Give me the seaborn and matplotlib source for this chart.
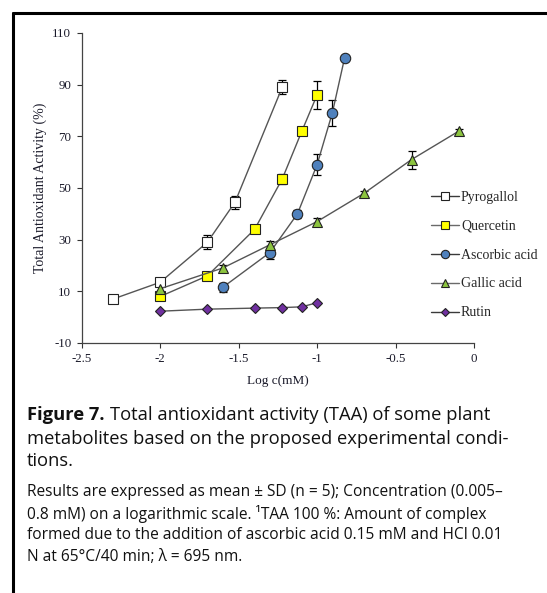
import numpy as np
import pandas as pd
import matplotlib
matplotlib.use("Agg")
import matplotlib.pyplot as plt
import seaborn as sns
from matplotlib.lines import Line2D

# ---- data ----
pyro_x = [-2.301, -2.0, -1.699, -1.523, -1.222]
pyro_y = [7.0, 13.5, 29.0, 44.5, 89.0]
pyro_e = [0.8, 1.0, 2.8, 2.5, 2.8]

quer_x = [-2.0, -1.699, -1.398, -1.222, -1.097, -1.0]
quer_y = [8.0, 16.0, 34.0, 53.5, 72.0, 86.0]
quer_e = [1.0, 1.0, 1.5, 1.8, 1.5, 5.3]

asc_x = [-1.602, -1.301, -1.125, -1.0, -0.903, -0.824]
asc_y = [11.5, 25.0, 40.0, 59.0, 79.0, 100.5]
asc_e = [1.6, 2.5, 1.5, 4.0, 5.0, 0.5]

gal_x = [-2.0, -1.602, -1.301, -1.0, -0.699, -0.398, -0.097]
gal_y = [11.0, 19.0, 28.0, 37.0, 48.0, 61.0, 72.0]
gal_e = [1.5, 1.2, 1.5, 1.2, 1.0, 3.5, 1.0]

rut_x = [-2.0, -1.699, -1.398, -1.222, -1.097, -1.0]
rut_y = [2.3, 3.1, 3.5, 3.7, 4.0, 5.6]

names = ["Pyrogallol", "Quercetin", "Ascorbic acid", "Gallic acid", "Rutin"]
x_ticks = [-2.5, -2, -1.5, -1, -0.5, 0]
x_ticklabels = ["-2.5", "-2", "-1.5", "-1", "-0.5", "0"]
y_ticks = [-10, 10, 30, 50, 70, 90, 110]
y_ticklabels = ["-10", "10", "30", "50", "70", "90", "110"]

sns.set_theme(style="white")
plt.rcParams["font.family"] = ["Liberation Serif", "DejaVu Serif"]
plt.rcParams["axes.unicode_minus"] = False

fig = plt.figure(figsize=(5.47, 5.93), dpi=100)
ax = fig.add_axes([0.1494, 0.4216, 0.7171, 0.5228])

series = [
    (pyro_x, pyro_y, pyro_e, "s", "white", 7.2, "#3a3a3a"),
    (quer_x, quer_y, quer_e, "s", "#FFFF00", 7.2, "#6a6a6a"),
    (asc_x, asc_y, asc_e, "o", "#4F81BD", 7.5, "#3a3a3a"),
    (gal_x, gal_y, gal_e, "^", "#8CC43F", 7.5, "#6a6a6a"),
    (rut_x, rut_y, None, "D", "#7030A0", 5.5, "#3a3a3a"),
]

handles = []
for (xs, ys, es, mk, fc, ms, lc), nm in zip(series, names):
    df = pd.DataFrame({"x": xs, "y": ys})
    if es is not None:
        ax.errorbar(xs, ys, yerr=es, fmt="none", ecolor="black",
                    elinewidth=0.9, capsize=3, capthick=0.9, zorder=2)
    sns.lineplot(data=df, x="x", y="y", ax=ax, color="#555555",
                 linewidth=1.0, marker=mk, markersize=ms,
                 markerfacecolor=fc, markeredgecolor="#222222",
                 markeredgewidth=0.8, zorder=3, legend=False)
    handles.append(Line2D([0], [0], color=lc, linewidth=1.0, marker=mk,
                          markersize=ms * 0.8, markerfacecolor=fc,
                          markeredgecolor="#222222", markeredgewidth=0.8,
                          label=nm))

ax.set_xlim(-2.5, 0)
ax.set_ylim(-10, 110)
ax.set_xticks(x_ticks)
ax.set_xticklabels(x_ticklabels)
ax.set_yticks(y_ticks)
ax.set_yticklabels(y_ticklabels)
ax.tick_params(axis="both", direction="out", length=3.5, width=0.8,
               colors="#333333", labelsize=9.3, labelcolor="#1a1a2a",
               bottom=True, left=True, pad=4)
for s in ["top", "right"]:
    ax.spines[s].set_visible(False)
for s in ["left", "bottom"]:
    ax.spines[s].set_color("#444444")
    ax.spines[s].set_linewidth(0.9)
ax.set_xlabel("Log c(mM)", fontsize=9.5, color="#1a1a2a", labelpad=7)
ax.set_ylabel("Total Antioxidant Activity (%)", fontsize=10, color="#1a1a2a",
              labelpad=4)
ax.grid(False)

leg = fig.legend(handles=handles, loc="upper left",
                 bbox_to_anchor=(0.778, 0.688), frameon=False,
                 fontsize=10, handlelength=2.0, handletextpad=0.15,
                 labelspacing=1.15, borderaxespad=0)

# frame lines (top and left)
fig.add_artist(Line2D([13 / 547, 1.0], [1 - 13 / 593, 1 - 13 / 593],
                      transform=fig.transFigure, color="black", linewidth=2.2))
fig.add_artist(Line2D([13 / 547, 13 / 547], [0, 1 - 13 / 593],
                      transform=fig.transFigure, color="black", linewidth=2.2))

cap_font = ["Open Sans", "DejaVu Sans"]
cap_size = 13.2
x0 = 27 / 547
t_bold = fig.text(x0, 1 - 415 / 593, "Figure 7.", fontsize=cap_size,
                  fontweight="bold", family=cap_font, va="center", ha="left",
                  color="#111111")
fig.canvas.draw()
bb = t_bold.get_window_extent(renderer=fig.canvas.get_renderer())
x_after = (bb.x1 + 5) / fig.bbox.width
fig.text(x_after, 1 - 415 / 593,
         "Total antioxidant activity (TAA) of some plant",
         fontsize=cap_size, family=cap_font, va="center", ha="left", color="#111111")
fig.text(x0, 1 - 439 / 593,
         "metabolites based on the proposed experimental condi-",
         fontsize=cap_size, family=cap_font, va="center", ha="left", color="#111111")
fig.text(x0, 1 - 461 / 593, "tions.",
         fontsize=cap_size, family=cap_font, va="center", ha="left", color="#111111")

notes = [
    "Results are expressed as mean \u00b1 SD (n = 5); Concentration (0.005\u2013",
    "0.8 mM) on a logarithmic scale. \u00b9TAA 100 %: Amount of complex",
    "formed due to the addition of ascorbic acid 0.15 mM and HCl 0.01",
    "N at 65\u00b0C/40 min; \u03bb = 695 nm.",
]
for i, t in enumerate(notes):
    fig.text(x0, 1 - (492 + 21.7 * i) / 593, t, fontsize=11.2,
             family=cap_font, va="center", ha="left", color="#111111")

fig.savefig("out.png", dpi=100)
